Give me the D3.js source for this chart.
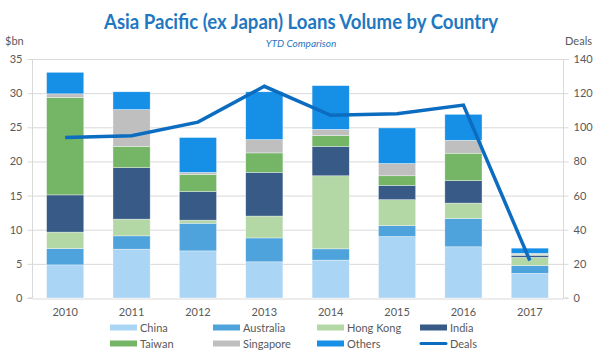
<!DOCTYPE html>
<html><head><meta charset="utf-8">
<script src="https://cdn.jsdelivr.net/npm/d3@7"></script>
<style>body{margin:0;background:#fff}svg{display:block}text{font-family:Lato,"Open Sans",sans-serif}</style>
</head><body><svg id="c" width="600" height="360"></svg>
<script>
const years = ["2010","2011","2012","2013","2014","2015","2016","2017"];
const seriesNames = ["China","Australia","Hong Kong","India","Taiwan","Singapore","Others"];
const china     = [4.85, 7.15, 6.9, 5.3, 5.55, 9.0, 7.5, 3.6];
const australia = [2.4, 1.95, 4.05, 3.5, 1.65, 1.6, 4.15, 1.15];
const hongKong  = [2.4, 2.45, 0.45, 3.2, 10.7, 3.8, 2.25, 1.2];
const india     = [5.45, 7.55, 4.2, 6.4, 4.3, 2.1, 3.3, 0.3];
const taiwan    = [14.25, 3.1, 2.5, 2.85, 1.6, 1.4, 4.0, 0.1];
const singapore = [0.55, 5.4, 0.3, 1.95, 0.9, 1.8, 1.9, 0.2];
const others    = [3.15, 2.6, 5.1, 7.0, 6.4, 5.2, 3.8, 0.75];
const deals     = [94, 95, 103, 124, 107, 108, 113, 22];
const leftTicks = [0,5,10,15,20,25,30,35];
const rightTicks = [0,20,40,60,80,100,120,140];
const colors = ["#abd5f5","#4ea3dc","#b3d7a5","#375a87","#74b566","#bfbfbf","#1590e6"];
const lineColor = "#0b6cc0";

const seriesVals = [china, australia, hongKong, india, taiwan, singapore, others];
const table = years.map((y,i)=>{const o={year:y}; seriesNames.forEach((s,j)=>o[s]=seriesVals[j][i]); return o;});
const stacked = d3.stack().keys(seriesNames)(table);

const svg = d3.select("#c");
const L=32, R=563, T=59, B=298;
const x = d3.scaleBand().domain(years).range([L,R]).paddingInner(0.44).paddingOuter(0.22);
const y = d3.scaleLinear().domain([0,35]).range([B,T]);
const y2 = d3.scaleLinear().domain([0,140]).range([B,T]);
const grey = "#595959";

// gridlines
svg.append("g").selectAll("line").data(leftTicks.slice(1)).join("line")
  .attr("x1",L).attr("x2",R).attr("y1",d=>y(d)+0.5).attr("y2",d=>y(d)+0.5)
  .attr("stroke","#d9d9d9").attr("stroke-width",1);

// left axis
const ax = d3.axisLeft(y).tickValues(leftTicks).tickSize(5).tickPadding(5);
const gl = svg.append("g").attr("transform",`translate(${L+0.5},0)`).call(ax);
const ax2 = d3.axisRight(y2).tickValues(rightTicks).tickSize(5).tickPadding(5);
const gr = svg.append("g").attr("transform",`translate(${R+0.5},0)`).call(ax2);
const axb = d3.axisBottom(x).tickSize(0).tickPadding(10);
const gb = svg.append("g").attr("transform",`translate(0,${B+0.5})`).call(axb);
[gl,gr,gb].forEach(g=>{
  g.selectAll("path.domain").attr("stroke","#d9d9d9");
  g.selectAll(".tick line").attr("stroke","#d9d9d9");
  g.selectAll("text").attr("fill",grey).style("font-size","11px").style("font-family","Lato, 'Open Sans', sans-serif");
});
gl.select("path.domain").attr("d",`M-5,${T+0.5}H0V${B}H-5`);
gr.select("path.domain").attr("d",`M5,${T+0.5}H0V${B}H5`);

// bars
svg.append("g").selectAll("g").data(stacked).join("g")
  .attr("fill",(d,i)=>colors[i])
  .selectAll("rect").data(d=>d).join("rect")
  .attr("x",d=>x(d.data.year)).attr("width",x.bandwidth())
  .attr("y",d=>y(d[1])).attr("height",d=>Math.max(0,y(d[0])-y(d[1])))
  .attr("stroke","#ffffff").attr("stroke-opacity",0.6).attr("stroke-width",0.6);

// deals line
const line = d3.line().x((d,i)=>x(years[i])+x.bandwidth()/2).y(d=>y2(d));
svg.append("path").datum(deals).attr("d",line).attr("fill","none")
  .attr("stroke",lineColor).attr("stroke-width",3.5).attr("stroke-linejoin","miter");

// titles
const title = svg.append("text").attr("x",301).attr("y",29).attr("text-anchor","middle")
  .attr("fill","#1f78c1").style("font-weight","bold").style("font-size","20px")
  .text("Asia Pacific (ex Japan) Loans Volume by Country");
const tw = title.node().getComputedTextLength();
if (tw > 394) title.attr("textLength",394).attr("lengthAdjust","spacingAndGlyphs");
svg.append("text").attr("x",301).attr("y",47).attr("text-anchor","middle")
  .attr("fill","#1f78c1").style("font-style","italic").style("font-size","10px").text("YTD Comparison");
svg.append("text").attr("x",5).attr("y",45).attr("fill",grey).style("font-size","11px").text("$bn");
svg.append("text").attr("x",592).attr("y",45).attr("text-anchor","end").attr("fill",grey).style("font-size","11px").text("Deals");

// legend
const legendItems = seriesNames.map((s,i)=>({name:s,color:colors[i],type:"rect"}));
legendItems.push({name:"Deals",color:lineColor,type:"line"});
const colX = [110,213,317,420], rowY=[327.5,343.5];
const lg = svg.append("g").selectAll("g").data(legendItems).join("g")
  .attr("transform",(d,i)=>{const r=i<4?0:1, c=i%4; return `translate(${colX[c]},${rowY[r]})`;});
lg.each(function(d){
  const g=d3.select(this);
  if(d.type==="rect") g.append("rect").attr("x",0).attr("y",-3).attr("width",27).attr("height",6).attr("fill",d.color);
  else g.append("line").attr("x1",1).attr("x2",26).attr("y1",0).attr("y2",0).attr("stroke",d.color).attr("stroke-width",3).attr("stroke-linecap","round");
  g.append("text").attr("x",30).attr("y",4).attr("fill",grey).style("font-size","11px").text(d.name);
});
</script></body></html>
